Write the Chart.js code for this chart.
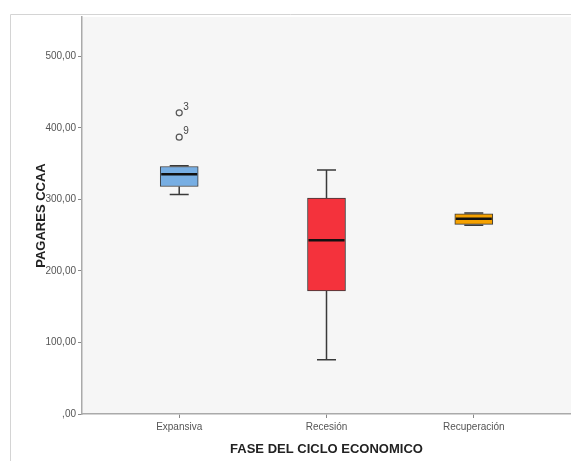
<!DOCTYPE html>
<html>
<head>
<meta charset="utf-8">
<script src="https://cdn.jsdelivr.net/npm/chart.js@4/dist/chart.umd.min.js"></script>
<style>
  html, body { margin: 0; padding: 0; background: #fff; }
  #wrap { width: 571px; height: 461px; position: relative; }
</style>
</head>
<body>
<div id="wrap"><canvas id="boxChart"></canvas></div>
<script>
// box plot values
const categories = ['Expansiva', 'Recesión', 'Recuperación'];
const whiskerLow = [307, 76, 264];
const q1 = [318, 172, 265];
const median = [335, 243, 273];
const q3 = [346, 302, 280];
const whiskerHigh = [347, 341, 281];
const boxColors = ['#77aee3', '#f4323c', '#f5a100'];
// outliers: category index, value, case label
const outlierCat = [0, 0];
const outlierVal = [421, 387];
const outlierLabel = ['3', '9'];
const yTicks = [0, 100, 200, 300, 400, 500];

const BOX_W = 38;

// plot background + outer frame
const backdrop = {
  id: 'backdrop',
  beforeDraw(chart) {
    const ctx = chart.ctx;
    const a = chart.chartArea;
    ctx.save();
    ctx.fillStyle = '#f6f6f6';
    ctx.fillRect(a.left, a.top, a.right - a.left, a.bottom - a.top);
    ctx.strokeStyle = '#d4d4d4';
    ctx.lineWidth = 1;
    ctx.beginPath();
    ctx.moveTo(10.5, chart.height);
    ctx.lineTo(10.5, 14.5);
    ctx.lineTo(chart.width, 14.5);
    ctx.stroke();
    ctx.restore();
  }
};

// whiskers under the boxes, medians and case labels on top
const boxParts = {
  id: 'boxParts',
  beforeDatasetsDraw(chart) {
    const ctx = chart.ctx;
    const x = chart.scales.x, y = chart.scales.y;
    ctx.save();
    ctx.strokeStyle = '#3a3a3a';
    ctx.lineWidth = 1.5;
    categories.forEach((c, i) => {
      const cx = x.getPixelForValue(i);
      const capW = BOX_W / 2;
      ctx.beginPath();
      ctx.moveTo(cx, y.getPixelForValue(whiskerLow[i]));
      ctx.lineTo(cx, y.getPixelForValue(q1[i]));
      ctx.moveTo(cx, y.getPixelForValue(q3[i]));
      ctx.lineTo(cx, y.getPixelForValue(whiskerHigh[i]));
      ctx.moveTo(cx - capW / 2, y.getPixelForValue(whiskerLow[i]));
      ctx.lineTo(cx + capW / 2, y.getPixelForValue(whiskerLow[i]));
      ctx.moveTo(cx - capW / 2, y.getPixelForValue(whiskerHigh[i]));
      ctx.lineTo(cx + capW / 2, y.getPixelForValue(whiskerHigh[i]));
      ctx.stroke();
    });
    ctx.restore();
  },
  afterDatasetsDraw(chart) {
    const ctx = chart.ctx;
    const x = chart.scales.x, y = chart.scales.y;
    ctx.save();
    ctx.strokeStyle = '#111';
    ctx.lineWidth = 2.5;
    categories.forEach((c, i) => {
      const cx = x.getPixelForValue(i);
      const my = y.getPixelForValue(median[i]);
      ctx.beginPath();
      ctx.moveTo(cx - BOX_W / 2 + 1, my);
      ctx.lineTo(cx + BOX_W / 2 - 1, my);
      ctx.stroke();
    });
    ctx.fillStyle = '#444';
    ctx.font = '10px "Liberation Sans", Arial, sans-serif';
    ctx.textAlign = 'left';
    ctx.textBaseline = 'bottom';
    outlierVal.forEach((v, k) => {
      const px = x.getPixelForValue(outlierCat[k]);
      const py = y.getPixelForValue(v);
      ctx.fillText(outlierLabel[k], px + 4, py - 1);
    });
    ctx.restore();
  }
};

new Chart(document.getElementById('boxChart'), {
  type: 'bar',
  data: {
    datasets: [
      {
        type: 'bar',
        data: categories.map((c, i) => ({ x: i, y: [q1[i], q3[i]] })),
        backgroundColor: boxColors,
        borderColor: '#3a3a3a',
        borderWidth: 1,
        borderSkipped: false,
        barThickness: BOX_W
      },
      {
        type: 'scatter',
        data: outlierVal.map((v, k) => ({ x: outlierCat[k], y: v })),
        pointStyle: 'circle',
        pointRadius: 3,
        borderColor: '#555',
        borderWidth: 1.2,
        backgroundColor: 'rgba(0,0,0,0)'
      }
    ]
  },
  options: {
    responsive: true,
    maintainAspectRatio: false,
    animation: false,
    layout: { autoPadding: false, padding: { left: 10, top: 17, right: 0, bottom: 0 } },
    plugins: {
      legend: { display: false },
      tooltip: { enabled: false }
    },
    scales: {
      x: {
        type: 'linear',
        offset: false,
        min: -0.66,
        max: 2.66,
        afterBuildTicks: axis => { axis.ticks = categories.map((c, i) => ({ value: i })); },
        afterFit: scale => {
          scale.height = 47;
          scale.paddingLeft = 0;
          scale.paddingRight = 0;
        },
        ticks: {
          callback: v => categories[v],
          color: '#555',
          font: { family: '"Liberation Sans", Arial, sans-serif', size: 10 },
          maxRotation: 0,
          padding: 3
        },
        grid: { offset: false, drawOnChartArea: false, drawTicks: true, tickLength: 4, color: '#888' },
        border: { display: true, color: '#aaa', width: 1.5 },
        title: {
          display: true,
          text: 'FASE DEL CICLO ECONOMICO',
          color: '#222',
          font: { family: '"Liberation Sans", Arial, sans-serif', size: 13, weight: 'bold' },
          padding: { top: 0, bottom: 4 }
        }
      },
      y: {
        min: 0,
        max: 555,
        afterBuildTicks: axis => { axis.ticks = yTicks.map(v => ({ value: v })); },
        afterFit: scale => { scale.width = 72; },
        ticks: {
          callback: v => v === 0 ? ',00' : v.toFixed(2).replace('.', ','),
          color: '#555',
          font: { family: '"Liberation Sans", Arial, sans-serif', size: 10 },
          padding: 2
        },
        grid: { drawOnChartArea: false, drawTicks: true, tickLength: 4, color: '#888' },
        border: { display: true, color: '#aaa', width: 1.5 },
        title: {
          display: true,
          text: 'PAGARES CCAA',
          color: '#222',
          font: { family: '"Liberation Sans", Arial, sans-serif', size: 13, weight: 'bold' },
          padding: { top: 24, bottom: 0 }
        }
      }
    }
  },
  plugins: [backdrop, boxParts]
});
</script>
</body>
</html>
